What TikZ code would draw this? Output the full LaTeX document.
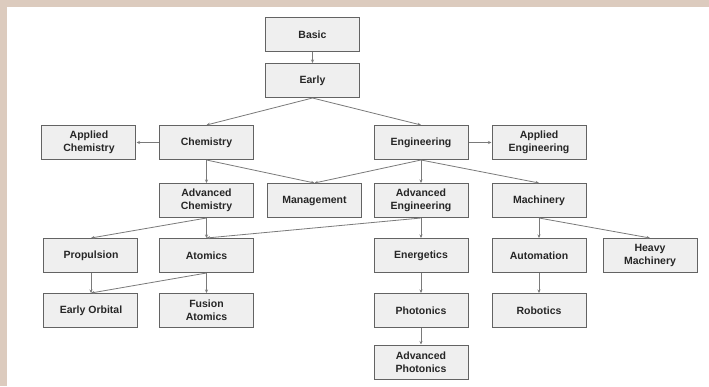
\documentclass[tikz,border=0pt]{standalone}
\usepackage{fontspec}
\setmainfont{Liberation Sans}
\usetikzlibrary{arrows.meta}
\definecolor{boxfill}{HTML}{EFEFEF}
\definecolor{boxline}{HTML}{636363}
\definecolor{linkgray}{HTML}{7A7A7A}
\definecolor{paper}{HTML}{DCCBBE}
\begin{document}
\begin{tikzpicture}[x=1pt,y=1pt,node distance=55pt,>={Stealth[length=3.5pt,width=3pt]},
    box/.style={draw=boxline, line width=1pt, fill=boxfill, rectangle, minimum width=94pt, minimum height=34pt,
        align=center, text=black!85, font=\fontsize{10.5}{13}\selectfont\bfseries},
    link/.style={->, draw=linkgray, line width=0.8pt}]
        % frame round the chart
        \fill[paper] (-312.5,34.5) rectangle (396.5,-351.5);
        \fill[white] (-305.5,27.5) rectangle (396.5,-351.5);
        \useasboundingbox (-312.5,34.5) rectangle (396.5,-351.5);

        \node (basic) [box] at (0,0) {Basic};
        \node (early) [box, below of=basic, yshift=9pt] {Early};
        \node (chem) [box, below of=early, xshift=-106pt, yshift=-7pt] {Chemistry};
        \node (eng) [box, below of=early, xshift=108.5pt, yshift=-7pt] {Engineering};
        \node (appchem) [box, left of=chem, node distance=117.5pt] {Applied\\Chemistry};
        \node (appeng) [box, right of=eng, node distance=118pt] {Applied\\Engineering};

        \node (advchem) [box, below of=chem, yshift=-3pt] {Advanced\\Chemistry};
        \node (mgmt) [box, right of=advchem, node distance=108pt] {Management};
        \node (adveng) [box, below of=eng, yshift=-3pt] {Advanced\\Engineering};
        \node (mach) [box, below of=appeng, yshift=-3pt] {Machinery};

        \node (atomics) [box, below of=advchem] {Atomics};
        \node (propulsion) [box, left of=atomics, node distance=115.5pt] {Propulsion};
        \node (energetics) [box, below of=adveng] {Energetics};
        \node (automation) [box, below of=mach] {Automation};
        \node (heavy) [box, right of=automation, node distance=111pt] {Heavy\\Machinery};

        \node (orbital) [box, below of=propulsion] {Early Orbital};
        \node (fusion) [box, below of=atomics] {Fusion\\Atomics};
        \node (photonics) [box, below of=energetics] {Photonics};
        \node (robotics) [box, below of=automation] {Robotics};
        \node (advphot) [box, below of=photonics, yshift=3.5pt] {Advanced\\Photonics};

        \draw[link] (basic) -- (early);
        \draw[link] (early.south) -- (chem.north);
        \draw[link] (early.south) -- (eng.north);
        \draw[link] (chem) -- (appchem);
        \draw[link] (eng) -- (appeng);
        \draw[link] (chem) -- (advchem);
        \draw[link] (chem.south) -- (mgmt.north);
        \draw[link] (eng.south) -- (mgmt.north);
        \draw[link] (eng) -- (adveng);
        \draw[link] (eng.south) -- (mach.north);
        \draw[link] (advchem.south) -- (propulsion.north);
        \draw[link] (advchem) -- (atomics);
        \draw[link] (adveng.south) -- (atomics.north);
        \draw[link] (adveng) -- (energetics);
        \draw[link] (mach) -- (automation);
        \draw[link] (mach.south) -- (heavy.north);
        \draw[link] (propulsion) -- (orbital);
        \draw[link] (atomics.south) -- (orbital.north);
        \draw[link] (atomics) -- (fusion);
        \draw[link] (energetics) -- (photonics);
        \draw[link] (photonics) -- (advphot);
        \draw[link] (automation) -- (robotics);
    \end{tikzpicture}
\end{document}
